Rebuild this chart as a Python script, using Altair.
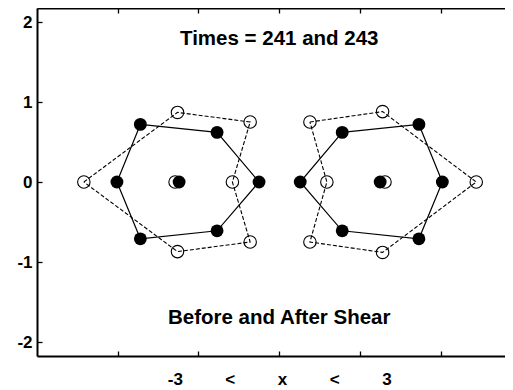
import altair as alt
import pandas as pd

# Before-shear shape (filled circles, solid line), vertices in drawing order
filled_left_x = [-1.72, -0.77, -0.25, -0.77, -1.72, -2.01]
filled_left_y = [0.72, 0.62, 0.0, -0.61, -0.71, 0.0]
filled_right_x = [0.78, 1.73, 2.02, 1.73, 0.78, 0.26]
filled_right_y = [0.62, 0.72, 0.0, -0.71, -0.61, 0.0]
# After-shear shape (open circles, dashed line)
open_left_x = [-2.42, -1.26, -0.36, -0.58, -0.36, -1.26]
open_left_y = [0.0, 0.87, 0.75, 0.0, -0.75, -0.87]
open_right_x = [0.38, 1.28, 2.44, 1.28, 0.38, 0.59]
open_right_y = [0.75, 0.88, 0.0, -0.88, -0.75, 0.0]
# centre particles
center_filled_x = [-1.24, 1.25]
center_open_x = [-1.29, 1.31]
center_y = [0.0, 0.0]

tick_values = [-2, -1, 0, 1, 2]
annot_text = ["Times = 241 and 243", "Before and After Shear"]
annot_x = [0.0, 0.0]
annot_y = [1.79, -1.70]

NB = "\u00a0" * 9
x_title = f"-3{NB}<{NB}x{NB}<{NB}3"

X_MIN, X_MAX = -3.0, 2.796
W, H = 468, 348
PX_PER_UNIT = W / (X_MAX - X_MIN)
FONT = "Liberation Sans"


def poly_rows(name, xs, ys):
    rows = []
    for i, (a, b) in enumerate(list(zip(xs, ys)) + [(xs[0], ys[0])]):
        rows.append({"poly": name, "order": i, "x": a, "y": b})
    return rows


solid_df = pd.DataFrame(poly_rows("L", filled_left_x, filled_left_y) +
                        poly_rows("R", filled_right_x, filled_right_y))
dash_df = pd.DataFrame(poly_rows("L", open_left_x, open_left_y) +
                       poly_rows("R", open_right_x, open_right_y))
filled_pts = pd.DataFrame({
    "x": filled_left_x + filled_right_x + center_filled_x,
    "y": filled_left_y + filled_right_y + center_y,
})
open_pts = pd.DataFrame({
    "x": open_left_x + open_right_x + center_open_x,
    "y": open_left_y + open_right_y + center_y,
})
annot_df = pd.DataFrame({"t": annot_text, "x": annot_x, "y": annot_y})

xscale = alt.Scale(domain=[X_MIN, X_MAX], nice=False, zero=False)
yscale = alt.Scale(domain=[-2.175, 2.175], nice=False, zero=False)

yaxis = alt.Axis(
    values=tick_values, labelExpr="'' + datum.value", title=None,
    labelFont=FONT, labelFontSize=17, labelFontWeight="bold", labelColor="black",
    ticks=False, tickSize=0, labelPadding=5,
    domain=True, domainColor="black", domainWidth=2,
    grid=True, gridColor="black", gridWidth=1.3, gridOpacity=1, gridDash=[5, 10000],
)
xaxis_bottom = alt.Axis(
    values=tick_values, labels=False, ticks=False, tickSize=0,
    domain=True, domainColor="black", domainWidth=2,
    grid=True, gridColor="black", gridWidth=1.3, gridOpacity=1, gridDash=[5, H - 10],
    title=x_title, titleFont=FONT, titleFontSize=17, titleFontWeight="bold",
    titleColor="black", titlePadding=15,
    titleX=round(-X_MIN * PX_PER_UNIT, 1), titleAlign="center",
)
xaxis_top = alt.Axis(
    orient="top", values=tick_values, labels=False, ticks=False, tickSize=0,
    domain=True, domainColor="black", domainWidth=2, grid=False, title=None,
)

Y = alt.Y("y:Q", scale=yscale, axis=yaxis)

solid = alt.Chart(solid_df).mark_line(color="black", strokeWidth=1.2).encode(
    x=alt.X("x:Q", scale=xscale, axis=xaxis_bottom), y=Y,
    order="order:Q", detail="poly:N")
dashed = alt.Chart(dash_df).mark_line(color="black", strokeWidth=1.1, strokeDash=[4, 2]).encode(
    x=alt.X("x:Q", scale=xscale, axis=None), y=Y,
    order="order:Q", detail="poly:N")
opens = alt.Chart(open_pts).mark_point(shape="circle", size=155, filled=False,
                                        color="black", strokeWidth=1.1, opacity=1).encode(
    x=alt.X("x:Q", scale=xscale, axis=None), y=Y)
fills = alt.Chart(filled_pts).mark_point(shape="circle", size=165, filled=True,
                                         color="black", opacity=1).encode(
    x=alt.X("x:Q", scale=xscale, axis=None), y=Y)
texts = alt.Chart(annot_df).mark_text(font=FONT, fontSize=20.5, fontWeight="bold",
                                      color="black", baseline="middle", align="center").encode(
    x=alt.X("x:Q", scale=xscale, axis=xaxis_top), y=Y, text="t:N")

chart = alt.layer(solid, dashed, opens, fills, texts).resolve_axis(
    x="independent"
).properties(
    width=W, height=H,
    autosize=alt.AutoSizeParams(type="none"),
    padding={"left": 29, "top": 0, "right": 0, "bottom": 34},
).configure_view(stroke=None).configure(background="white")

chart.save("out.html", embed_options={"renderer": "svg", "actions": False})
